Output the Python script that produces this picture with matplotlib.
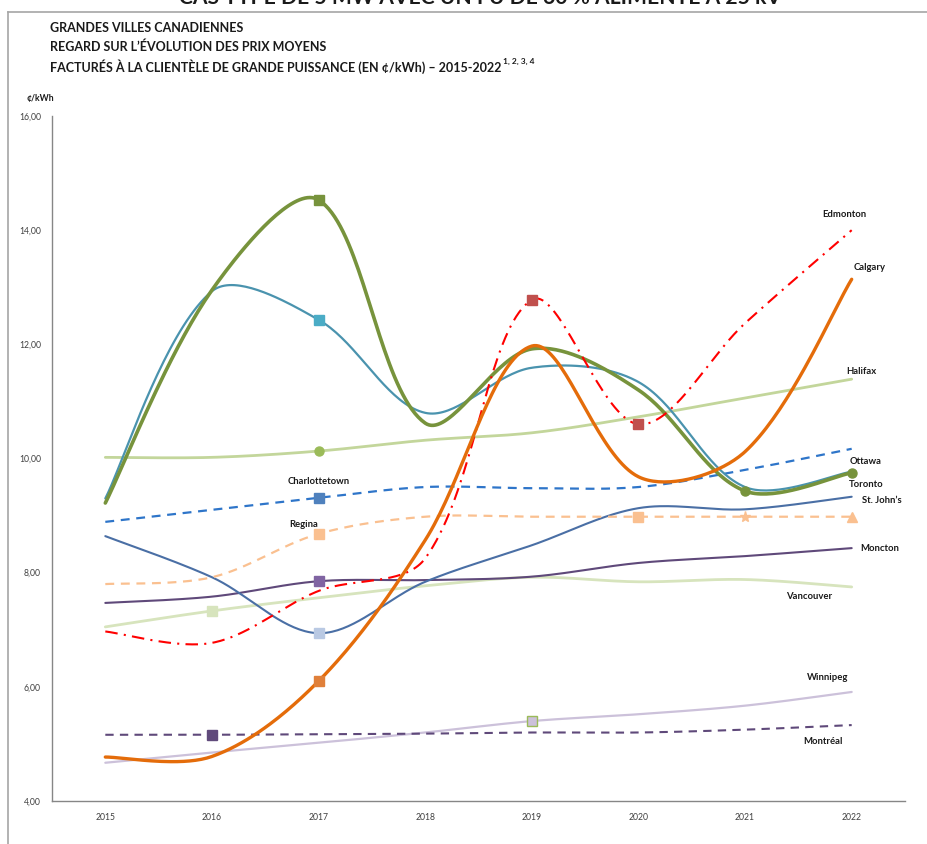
import matplotlib
matplotlib.use('Agg')
import matplotlib.pyplot as plt
import numpy as np
from matplotlib.lines import Line2D
from matplotlib.ticker import FuncFormatter

plt.rcParams['font.family'] = ['Lato', 'DejaVu Sans']

# données (¢/kWh)
years = [2015, 2016, 2017, 2018, 2019, 2020, 2021, 2022]
edmonton = [6.97, 6.77, 7.68, 8.25, 12.78, 10.60, 12.37, 14.00]
calgary = [4.77, 4.78, 6.10, 8.57, 11.97, 9.68, 10.12, 13.14]
halifax = [10.02, 10.02, 10.13, 10.32, 10.45, 10.73, 11.06, 11.39]
ottawa = [9.30, 12.93, 12.43, 10.80, 11.59, 11.34, 9.50, 9.77]
toronto = [9.22, 12.95, 14.53, 10.62, 11.92, 11.20, 9.43, 9.75]
charlottetown = [8.89, 9.10, 9.31, 9.50, 9.48, 9.50, 9.80, 10.17]
st_johns = [8.64, 7.92, 6.94, 7.84, 8.48, 9.13, 9.11, 9.33]
regina = [7.80, 7.92, 8.68, 8.98, 8.98, 8.98, 8.98, 8.98]
moncton = [7.47, 7.58, 7.85, 7.87, 7.93, 8.17, 8.29, 8.43]
vancouver = [7.05, 7.33, 7.56, 7.77, 7.92, 7.84, 7.88, 7.75]
winnipeg = [4.67, 4.85, 5.02, 5.20, 5.40, 5.52, 5.67, 5.91]
montreal = [5.16, 5.16, 5.17, 5.18, 5.20, 5.20, 5.25, 5.33]

# échelle en pixels (pour le lissage)
PX_X, PX_Y = 106.9, 57.08


def smooth(x, y, n=40):
    # courbe lissée façon Excel : Bézier, tangentes pondérées par la longueur des segments
    P = np.column_stack([x, y]).astype(float)
    S = P * [PX_X, PX_Y]
    m = len(P)
    d = np.hypot(*(np.diff(S, axis=0).T))
    c_out = np.zeros_like(P)
    c_in = np.zeros_like(P)
    for i in range(m):
        if i == 0:
            c_out[i] = P[0] + (P[1] - P[0]) / 6
            continue
        if i == m - 1:
            c_in[i] = P[i] - (P[i] - P[i - 1]) / 6
            continue
        tan = P[i + 1] - P[i - 1]
        tot = d[i - 1] + d[i]
        c_in[i] = P[i] - tan * d[i - 1] / tot / 3
        c_out[i] = P[i] + tan * d[i] / tot / 3
    t = np.linspace(0, 1, n)[:, None]
    out = []
    for i in range(m - 1):
        p0, c1, c2, p3 = P[i], c_out[i], c_in[i + 1], P[i + 1]
        seg = (1 - t) ** 3 * p0 + 3 * (1 - t) ** 2 * t * c1 + 3 * (1 - t) * t ** 2 * c2 + t ** 3 * p3
        out.append(seg if i == 0 else seg[1:])
    out = np.vstack(out)
    return out[:, 0], out[:, 1]


fig = plt.figure(figsize=(9.27, 8.44), dpi=100)
ax = fig.add_axes([52 / 927, 1 - 801 / 844, (905 - 52) / 927, (801 - 116) / 844])

# (valeurs, couleur, largeur, style, marqueurs {index: (forme, face, bord)})
series = [
    (halifax, '#c3d69b', 2.0, '-', {2: ('o', '#9bbb59', '#9bbb59')}),
    (vancouver, '#d7e4bd', 2.0, '-', {1: ('s', '#d7e4bd', '#d7e4bd')}),
    (winnipeg, '#ccc1da', 1.6, '-', {4: ('s', '#ccc1da', '#9bbb59')}),
    (montreal, '#5f497a', 1.5, (0, (4, 3)), {1: ('s', '#604a7b', '#604a7b')}),
    (moncton, '#5f497a', 1.5, '-', {2: ('s', '#8064a2', '#8064a2')}),
    (st_johns, '#4a6fa5', 1.5, '-', {2: ('s', '#b9c9e3', '#b9c9e3')}),
    (regina, '#fac090', 1.6, (0, (4, 3)), {2: ('s', '#fac090', '#fac090'), 5: ('s', '#fac090', '#fac090'),
                                           6: ('*', '#fac090', '#fac090'), 7: ('^', '#fac090', '#fac090')}),
    (charlottetown, '#2e75c9', 1.6, (0, (4, 3)), {2: ('s', '#4f81bd', '#4f81bd')}),
    (ottawa, '#4a93ae', 1.6, '-', {2: ('s', '#4bacc6', '#4bacc6')}),
    (toronto, '#77933c', 2.6, '-', {2: ('s', '#77933c', '#77933c'), 6: ('o', '#77933c', '#77933c'),
                                    7: ('o', '#77933c', '#77933c')}),
    (edmonton, '#ff0000', 1.5, (0, (6, 3, 1, 3)), {4: ('s', '#c0504d', '#c0504d'), 5: ('s', '#c0504d', '#c0504d')}),
    (calgary, '#e46c0a', 2.4, '-', {2: ('s', '#e0803a', '#e0803a')}),
]

for z, (vals, color, lw, ls, marks) in enumerate(series):
    sx, sy = smooth(years, vals)
    ax.plot(sx, sy, color=color, lw=lw, ls=ls, solid_capstyle='round', zorder=2 + z)
    for idx, (mk, fc, ec) in marks.items():
        ax.plot(years[idx], vals[idx], marker=mk, ms=6.5 if mk != '*' else 8, mfc=fc, mec=ec, mew=1,
                ls='none', zorder=2.5 + z)

# étiquettes des villes
labels = [
    ('Edmonton', 2021.93, 14.28),
    ('Calgary', 2022.17, 13.34),
    ('Halifax', 2022.09, 11.52),
    ('Ottawa', 2022.13, 9.94),
    ('Toronto', 2022.14, 9.55),
    ("St. John’s", 2022.28, 9.27),
    ('Moncton', 2022.26, 8.43),
    ('Vancouver', 2021.60, 7.59),
    ('Winnipeg', 2021.77, 6.17),
    ('Montréal', 2021.73, 5.05),
    ('Charlottetown', 2017.0, 9.59),
    ('Regina', 2016.86, 8.85),
]
for name, lx, ly in labels:
    ax.text(lx, ly, name, fontsize=6.8, fontweight='bold', color='#1a1a1a', ha='center', va='center', zorder=20)

ax.set_xlim(2014.5, 2022.5)
ax.set_ylim(4, 16)
ax.set_xticks(years)
ax.set_yticks(np.arange(4, 17, 2))
ax.yaxis.set_major_formatter(FuncFormatter(lambda v, p: f'{v:.2f}'.replace('.', ',')))
ax.tick_params(axis='both', length=0, labelsize=6.2, labelcolor='#404040')
ax.tick_params(axis='x', pad=9)
ax.tick_params(axis='y', pad=8)
for s in ['top', 'right']:
    ax.spines[s].set_visible(False)
for s in ['left', 'bottom']:
    ax.spines[s].set_color('#868686')
    ax.spines[s].set_linewidth(1)

# titres
fig.text(0.518, 1 - 4 / 844, 'CAS TYPE DE 5 MW AVEC UN FU DE 60 % ALIMENTÉ À 25 kV', ha='center',
         va='baseline', fontsize=15.2, fontweight='bold', color='#1a1a1a')
for ty, txt in [(28, 'GRANDES VILLES CANADIENNES'), (47, 'REGARD SUR L’ÉVOLUTION DES PRIX MOYENS')]:
    fig.text(50 / 927, 1 - ty / 844, txt, fontsize=9, fontweight='bold', color='#1a1a1a', va='center')
t3 = fig.text(50 / 927, 1 - 67 / 844, 'FACTURÉS À LA CLIENTÈLE DE GRANDE PUISSANCE (EN ¢/kWh) – 2015-2022',
              fontsize=9, fontweight='bold', color='#1a1a1a', va='center')
ax.annotate('1, 2, 3, 4', xy=(1, 1), xycoords=t3, xytext=(1, -3.5), textcoords='offset points',
            fontsize=6, fontweight='bold', color='#1a1a1a', va='bottom', ha='left', annotation_clip=False)
fig.text(40 / 927, 1 - 98 / 844, '¢/kWh', fontsize=6.2, fontweight='bold', color='#1a1a1a', va='center', ha='center')

# cadre
fig.add_artist(Line2D([8 / 927, 8 / 927], [0, 1 - 12 / 844], color='#a6a6a6', lw=1.2))
fig.add_artist(Line2D([8 / 927, 1], [1 - 12 / 844, 1 - 12 / 844], color='#a6a6a6', lw=1.2))

fig.savefig('out.png', dpi=100)
